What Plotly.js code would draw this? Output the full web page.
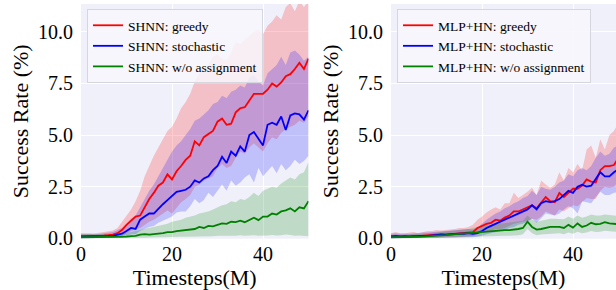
<!DOCTYPE html>
<html>
<head>
<meta charset="utf-8">
<script src="https://cdn.plot.ly/plotly-3.0.1.min.js"></script>
<style>html,body{margin:0;padding:0;background:#fff;}#chart{width:616px;height:290px;}</style>
</head>
<body>
<div id="chart"></div>
<script>
// Timesteps (M)
const steps = Array.from({length: 51}, (_, i) => i);

// ---- Left panel: SHNN ----
const shnnGreedy = [0.10,0.10,0.10,0.12,0.12,0.13,0.15,0.18,0.25,0.40,0.65,0.85,1.05,1.10,1.50,1.90,2.20,2.55,2.70,3.10,2.85,3.25,3.50,3.80,4.00,4.70,4.50,4.90,5.05,5.20,5.65,5.80,5.50,5.55,6.10,6.30,6.35,6.70,7.00,7.00,7.00,7.20,7.50,7.35,7.55,7.85,7.95,8.20,8.50,8.20,8.70];
const shnnGreedyHi = [0.22,0.22,0.24,0.25,0.27,0.30,0.33,0.38,0.50,0.80,1.10,1.40,1.80,2.30,3.00,3.50,4.00,4.40,4.80,5.20,5.40,5.80,6.30,6.60,7.00,7.60,8.00,8.20,8.40,8.80,8.90,8.70,8.60,9.00,9.50,9.40,9.60,9.80,10.00,10.10,9.90,10.30,10.50,10.80,10.60,11.20,11.40,11.00,11.50,11.20,11.50];
const shnnGreedyLo = [0.00,0.00,0.00,0.00,0.00,0.00,0.02,0.03,0.05,0.10,0.25,0.35,0.45,0.50,0.65,0.80,0.90,1.05,1.20,1.35,1.20,1.45,1.75,1.90,2.10,2.50,2.60,2.80,2.90,3.00,3.40,3.60,3.40,3.50,3.90,4.20,4.10,4.40,4.60,4.40,4.20,4.60,4.90,4.80,5.10,5.30,5.40,5.50,5.70,5.60,5.90];

const shnnStoch = [0.08,0.08,0.08,0.08,0.09,0.10,0.10,0.12,0.18,0.22,0.35,0.50,0.45,0.90,1.05,1.20,1.20,1.45,1.65,1.85,2.05,2.25,2.30,2.35,2.50,2.80,2.70,2.90,3.00,3.30,3.50,3.95,3.65,4.20,4.00,4.45,4.20,5.00,5.15,4.85,4.50,5.50,5.60,5.50,5.90,5.25,5.95,6.05,6.00,5.75,6.20];
const shnnStochHi = [0.18,0.18,0.20,0.20,0.22,0.25,0.28,0.30,0.40,0.50,0.70,0.95,1.10,1.50,1.90,2.30,2.60,3.00,3.40,3.80,4.20,4.50,4.70,5.00,5.30,5.70,5.80,6.00,6.20,6.50,6.60,6.90,6.80,7.10,7.20,7.40,7.30,7.80,7.90,7.60,7.40,8.00,8.20,8.40,8.80,8.40,9.00,9.10,8.90,8.60,8.80];
const shnnStochLo = [0.00,0.00,0.00,0.00,0.00,0.00,0.00,0.00,0.01,0.02,0.10,0.20,0.20,0.35,0.45,0.55,0.60,0.75,0.85,0.95,1.05,1.25,1.30,1.30,1.55,1.90,1.70,1.85,2.20,2.00,2.30,2.60,2.30,2.80,2.55,2.70,2.95,3.10,2.70,3.40,3.00,3.25,3.50,3.15,3.60,3.30,3.50,3.80,3.60,3.75,4.00];

const shnnWo = [0.05,0.05,0.05,0.05,0.05,0.05,0.05,0.06,0.07,0.08,0.08,0.10,0.12,0.18,0.20,0.18,0.20,0.22,0.25,0.30,0.30,0.35,0.38,0.40,0.45,0.45,0.55,0.50,0.60,0.58,0.65,0.72,0.70,0.80,0.78,0.85,0.78,0.90,1.00,0.88,1.05,1.05,1.20,1.15,1.30,1.35,1.45,1.30,1.50,1.45,1.80];
const shnnWoHi = [0.25,0.25,0.22,0.20,0.20,0.20,0.20,0.22,0.25,0.25,0.28,0.30,0.35,0.40,0.45,0.50,0.55,0.60,0.65,0.70,0.80,0.85,0.90,1.00,1.05,1.10,1.20,1.25,1.30,1.40,1.50,1.60,1.65,1.80,1.75,1.90,1.85,2.00,2.20,2.05,2.30,2.40,2.50,2.45,2.65,2.80,2.95,2.85,3.10,3.20,3.70];
const shnnWoLo = [0.00,0.00,0.00,0.00,0.00,0.00,0.00,0.00,0.00,0.00,0.00,0.00,0.02,0.03,0.03,0.04,0.04,0.05,0.05,0.06,0.06,0.07,0.07,0.08,0.08,0.09,0.10,0.09,0.11,0.10,0.12,0.12,0.11,0.13,0.12,0.15,0.12,0.14,0.15,0.12,0.12,0.14,0.16,0.13,0.15,0.18,0.16,0.12,0.14,0.12,0.10];

// ---- Right panel: MLP+HN ----
const mlpGreedy = [0.10,0.12,0.10,0.08,0.10,0.12,0.10,0.12,0.15,0.15,0.18,0.20,0.18,0.20,0.22,0.25,0.25,0.28,0.30,0.50,0.60,0.70,0.75,0.90,0.85,1.00,1.10,1.30,1.30,1.40,1.50,1.60,1.45,1.70,2.00,1.80,1.75,2.20,2.00,2.20,2.40,2.40,2.55,2.85,2.75,2.70,3.30,3.50,3.50,3.55,3.90];
const mlpGreedyHi = [0.25,0.30,0.25,0.22,0.28,0.30,0.25,0.30,0.35,0.35,0.40,0.38,0.40,0.45,0.45,0.50,0.50,0.55,0.65,0.90,1.05,1.25,1.40,1.50,1.40,1.70,1.70,2.20,1.95,2.10,2.25,2.45,2.10,2.80,2.60,2.45,2.60,3.20,2.80,3.40,3.20,3.60,3.30,4.30,4.50,3.90,4.80,4.30,5.00,5.20,5.60];
const mlpGreedyLo = [0.00,0.00,0.00,0.00,0.00,0.00,0.00,0.00,0.02,0.02,0.03,0.05,0.05,0.05,0.06,0.08,0.08,0.10,0.10,0.20,0.25,0.30,0.35,0.45,0.45,0.50,0.60,0.70,0.75,0.80,0.85,0.95,0.90,1.05,1.30,1.20,1.10,1.40,1.30,1.45,1.60,1.55,1.75,1.95,1.90,1.90,2.30,2.50,2.45,2.50,2.80];

const mlpStoch = [0.08,0.10,0.08,0.10,0.08,0.10,0.10,0.12,0.12,0.15,0.15,0.18,0.18,0.20,0.20,0.22,0.22,0.25,0.22,0.25,0.35,0.50,0.60,0.70,0.80,0.90,1.00,1.10,1.20,1.30,1.40,1.60,1.40,1.70,1.80,1.75,1.80,1.90,2.10,2.30,2.20,2.50,2.60,2.50,2.55,2.90,3.20,3.00,3.00,3.20,3.35];
const mlpStochHi = [0.22,0.25,0.22,0.25,0.22,0.25,0.25,0.28,0.28,0.30,0.32,0.35,0.35,0.38,0.38,0.42,0.42,0.45,0.42,0.50,0.70,0.90,1.05,1.20,1.30,1.45,1.55,1.70,1.80,1.95,2.05,2.30,2.10,2.50,2.40,2.35,2.50,2.70,2.80,3.10,3.00,3.30,3.40,3.30,3.50,3.90,4.20,4.00,4.10,4.40,4.50];
const mlpStochLo = [0.00,0.00,0.00,0.00,0.00,0.00,0.00,0.00,0.00,0.01,0.01,0.02,0.02,0.03,0.03,0.04,0.04,0.05,0.05,0.08,0.12,0.20,0.25,0.30,0.35,0.40,0.50,0.55,0.65,0.70,0.80,0.95,0.75,1.00,1.20,1.15,1.10,1.20,1.40,1.55,1.45,1.20,1.80,1.75,1.70,2.00,2.25,2.10,2.10,2.20,2.25];

const mlpWo = [0.05,0.06,0.05,0.06,0.06,0.07,0.07,0.08,0.10,0.10,0.12,0.13,0.15,0.18,0.20,0.20,0.22,0.25,0.28,0.30,0.32,0.35,0.37,0.38,0.38,0.40,0.40,0.42,0.45,0.50,0.80,0.55,0.42,0.45,0.50,0.55,0.55,0.55,0.50,0.65,0.52,0.72,0.55,0.62,0.75,0.68,0.70,0.78,0.72,0.70,0.68];
const mlpWoHi = [0.15,0.18,0.15,0.18,0.18,0.20,0.20,0.22,0.25,0.25,0.28,0.30,0.32,0.35,0.38,0.40,0.42,0.45,0.50,0.55,0.60,0.62,0.65,0.68,0.70,0.72,0.75,0.78,0.80,0.85,1.10,0.90,0.80,0.85,0.90,0.95,0.95,0.95,0.92,1.05,0.95,1.10,1.00,1.05,1.15,1.10,1.10,1.15,1.12,1.10,1.08];
const mlpWoLo = [0.00,0.00,0.00,0.00,0.00,0.00,0.00,0.00,0.01,0.01,0.02,0.02,0.03,0.04,0.05,0.05,0.06,0.07,0.08,0.09,0.10,0.11,0.12,0.12,0.12,0.12,0.12,0.13,0.15,0.20,0.45,0.25,0.15,0.18,0.20,0.22,0.22,0.24,0.20,0.28,0.22,0.32,0.25,0.28,0.35,0.30,0.32,0.36,0.34,0.32,0.30];

const labelsLeft = ['SHNN: greedy', 'SHNN: stochastic', 'SHNN: w/o assignment'];
const labelsRight = ['MLP+HN: greedy', 'MLP+HN: stochastic', 'MLP+HN: w/o assignment'];
const lineColors = ['#ff0000', '#0000ff', '#008000'];
const fillColors = ['rgba(255,0,0,0.2)', 'rgba(0,0,255,0.2)', 'rgba(0,128,0,0.2)'];

function band(lo, hi, fc, xa, ya) {
  return [
    {x: steps, y: lo, xaxis: xa, yaxis: ya, mode: 'lines', line: {width: 0, color: 'rgba(0,0,0,0)'}, showlegend: false, hoverinfo: 'skip'},
    {x: steps, y: hi, xaxis: xa, yaxis: ya, mode: 'lines', fill: 'tonexty', fillcolor: fc, line: {width: 0, color: 'rgba(0,0,0,0)'}, showlegend: false, hoverinfo: 'skip'}
  ];
}
function line(y, name, color, xa, ya, lg) {
  return {x: steps, y: y, xaxis: xa, yaxis: ya, mode: 'lines', name: name, legend: lg, line: {color: color, width: 1.8}};
}

const leftMeans = [shnnGreedy, shnnStoch, shnnWo];
const leftLo = [shnnGreedyLo, shnnStochLo, shnnWoLo];
const leftHi = [shnnGreedyHi, shnnStochHi, shnnWoHi];
const rightMeans = [mlpGreedy, mlpStoch, mlpWo];
const rightLo = [mlpGreedyLo, mlpStochLo, mlpWoLo];
const rightHi = [mlpGreedyHi, mlpStochHi, mlpWoHi];

let data = [];
for (let i = 0; i < 3; i++) data = data.concat(band(leftLo[i], leftHi[i], fillColors[i], 'x', 'y'));
for (let i = 0; i < 3; i++) data.push(line(leftMeans[i], labelsLeft[i], lineColors[i], 'x', 'y', 'legend'));
for (let i = 0; i < 3; i++) data = data.concat(band(rightLo[i], rightHi[i], fillColors[i], 'x2', 'y2'));
for (let i = 0; i < 3; i++) data.push(line(rightMeans[i], labelsRight[i], lineColors[i], 'x2', 'y2', 'legend2'));

const W = 616, H = 290;
const serif = '"Liberation Serif"';
const tickFont = {family: serif, size: 20, color: '#000'};
const titleFont = {family: serif, size: 22, color: '#000'};
const legendFont = {family: serif, size: 13.5, color: '#000'};

function xAxis(domain, range) {
  return {domain: domain, range: range, tickvals: [0, 20, 40], ticktext: ['0', '20', '40'],
    showgrid: true, gridcolor: '#ffffff', gridwidth: 1, zeroline: false, showline: false, ticks: '',
    tickfont: tickFont, automargin: false, ticklabelstandoff: 1,
    title: {text: 'Timesteps(M)', font: titleFont, standoff: 0}};
}
function yAxis(anchor) {
  return {domain: [1 - 238.7 / H, 1 - 4 / H], range: [-0.02, 11.35], anchor: anchor,
    tickvals: [0, 2.5, 5, 7.5, 10], ticktext: ['0.0', '2.5', '5.0', '7.5', '10.0'],
    showgrid: true, gridcolor: '#ffffff', gridwidth: 1, zeroline: false, showline: false, ticks: '',
    tickfont: tickFont, automargin: false, ticklabelstandoff: 7,
    title: {text: 'Success Rate (%)', font: titleFont, standoff: 3}};
}

const legendBase = {xanchor: 'left', yanchor: 'top', font: legendFont, traceorder: 'normal',
  bgcolor: 'rgba(247,247,252,0.85)', bordercolor: '#d6d6de', borderwidth: 1, tracegroupgap: 0};

const layout = {
  width: W, height: H,
  margin: {l: 0, r: 0, t: 0, b: 0, pad: 0},
  paper_bgcolor: '#ffffff',
  plot_bgcolor: '#f0f0fa',
  showlegend: true,
  xaxis: Object.assign(xAxis([81 / W, 308.5 / W], [0, 50]), {anchor: 'y'}),
  yaxis: yAxis('x'),
  xaxis2: Object.assign(xAxis([391 / W, 1], [0, 49.45]), {anchor: 'y2'}),
  yaxis2: yAxis('x2'),
  legend: Object.assign({x: 87 / W, y: 1 - 9 / H}, legendBase),
  legend2: Object.assign({x: 397 / W, y: 1 - 9 / H}, legendBase)
};

Plotly.newPlot('chart', data, layout, {staticPlot: true, displayModeBar: false});
</script>
</body>
</html>
